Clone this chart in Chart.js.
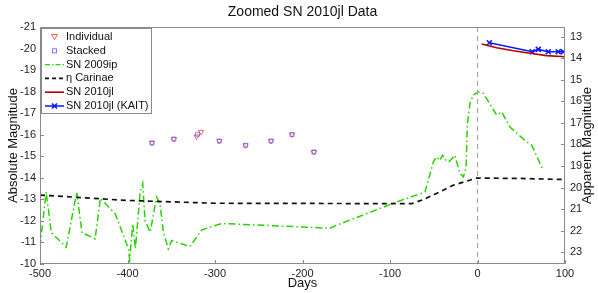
<!DOCTYPE html>
<html>
<head>
<meta charset="utf-8">
<script src="https://cdn.jsdelivr.net/npm/chart.js@4.4.1/dist/chart.umd.min.js"></script>
<style>
  html,body{margin:0;padding:0;background:#fff}
  #wrap{width:598px;height:293px}
</style>
</head>
<body>
<div id="wrap"><canvas id="c" width="598" height="293"></canvas></div>
<script>
// ---- axes ----
const xTicks=[-500,-400,-300,-200,-100,0,100];
const absTicks=[-21,-20,-19,-18,-17,-16,-15,-14,-13,-12,-11,-10];
const appTicks=[13,14,15,16,17,18,19,20,21,22,23];
const APP_OFFSET=33.55; // apparent - absolute

// ---- SN 2010jl precursor points ----
const indivDays=[-372,-347,-321,-316,-295,-265,-236,-212,-187];
const indivMags=[-15.62,-15.80,-15.92,-16.13,-15.71,-15.51,-15.71,-16.01,-15.20];
const stackDays=[-372,-347,-320,-295,-265,-236,-212,-187];
const stackMags=[-15.62,-15.80,-16.02,-15.71,-15.51,-15.71,-16.01,-15.20];

// ---- SN 2009ip ----
const ipDays=[-500,-493,-487,-470,-458,-452,-437,-431,-414,-399,-397.5,-394,-391,-389.5,-385.7,-382.6,-380,-374,-366.7,-362.9,-359,-353.4,-349.5,-328.6,-315.2,-305.7,-292.4,-240.9,-168.6,-160.9,-92.4,-60,-50.5,-47,-43,-40,-37,-33,-29,-26,-20,-16,-13,-11.6,-8.6,-4.8,0.9,6.6,22,27.6,37,54,62,75];
const ipMags=[-10.8,-13.35,-11.45,-10.78,-13.34,-11.45,-11.17,-13.05,-12.33,-10.72,-10.2,-11.87,-10.71,-11.4,-13.27,-13.73,-12.02,-11.48,-13.11,-12.8,-11.48,-10.71,-11.09,-10.81,-11.58,-11.71,-11.88,-11.79,-11.66,-11.8,-12.88,-13.34,-14.73,-14.97,-14.8,-15.05,-14.85,-14.73,-14.9,-15.05,-14.2,-14.05,-14.5,-16.5,-17.45,-17.84,-17.99,-17.92,-16.91,-17.06,-16.36,-15.74,-15.51,-14.35];

// ---- eta Carinae ----
const etaDays=[-500,-400,-300,-75,-62,-47,-28,-1,50,100];
const etaMags=[-13.2,-12.95,-12.82,-12.8,-12.99,-13.27,-13.65,-13.99,-13.97,-13.92];

// ---- SN 2010jl ----
const jlDays=[4.8,21.9,41,60,79,100];
const jlMags=[-20.21,-20.04,-19.9,-19.78,-19.67,-19.62];
const kaitDays=[13.5,62.6,69.5,80.9,92.3,98];
const kaitMags=[-20.27,-19.85,-19.96,-19.85,-19.85,-19.85];

// ---- day zero marker ----
const zeroDays=[0,0];
const zeroMags=[-21,-10];

const GREEN='rgb(40,210,0)';
const FONT='"Liberation Sans", Arial, Helvetica, sans-serif';
const pts=(xs,ys)=>xs.map((x,i)=>({x:x,y:ys[i]}));

const legendItems=[
  {label:'Individual',kind:'tri'},
  {label:'Stacked',kind:'sq'},
  {label:'SN 2009ip',kind:'line',color:GREEN,dash:[5,2,1.5,2],w:1.4},
  {label:'\u03B7 Carinae',kind:'line',color:'#111',dash:[4,3],w:1.6},
  {label:'SN 2010jl',kind:'line',color:'#b40000',dash:[],w:1.6},
  {label:'SN 2010jl (KAIT)',kind:'kait'}
];

const decor={
  id:'decor',
  afterDatasetsDraw(chart){
    const ctx=chart.ctx, a=chart.chartArea;
    const sx=chart.scales.x, sy=chart.scales.y, sy2=chart.scales.y2;
    ctx.save();
    // frame
    ctx.strokeStyle='#8a8a8a'; ctx.lineWidth=1; ctx.setLineDash([]);
    ctx.strokeRect(a.left+0.5,a.top+0.5,a.right-a.left-1,a.bottom-a.top-1);
    // inward ticks
    ctx.beginPath();
    absTicks.forEach(v=>{const y=Math.round(sy.getPixelForValue(v))+0.5;ctx.moveTo(a.left,y);ctx.lineTo(a.left+4,y);});
    appTicks.forEach(v=>{const y=Math.round(sy2.getPixelForValue(v))+0.5;ctx.moveTo(a.right,y);ctx.lineTo(a.right-4,y);});
    xTicks.forEach(v=>{const x=Math.round(sx.getPixelForValue(v))+0.5;ctx.moveTo(x,a.bottom);ctx.lineTo(x,a.bottom-4);});
    ctx.stroke();
    // titles
    ctx.fillStyle='#111';
    ctx.textAlign='center'; ctx.textBaseline='middle';
    ctx.font='14px '+FONT;
    ctx.fillText('Zoomed SN 2010jl Data',(a.left+a.right)/2,12);
    ctx.font='13px '+FONT;
    ctx.fillText('Days',(a.left+a.right)/2,283);
    const cy=(a.top+a.bottom)/2;
    ctx.save();ctx.translate(13,cy);ctx.rotate(-Math.PI/2);ctx.fillText('Absolute Magnitude',0,0);ctx.restore();
    ctx.save();ctx.translate(587,cy);ctx.rotate(-Math.PI/2);ctx.fillText('Apparent Magnitude',0,0);ctx.restore();
    // legend
    const lx=a.left+1, ly=a.top+1, lw=110, lh=85;
    ctx.fillStyle='#fff'; ctx.fillRect(lx,ly,lw,lh);
    ctx.strokeStyle='#8a8a8a'; ctx.strokeRect(lx+0.5,ly+0.5,lw,lh);
    ctx.font='11px '+FONT; ctx.textAlign='left';
    legendItems.forEach((it,i)=>{
      const y=ly+9+i*13.8;
      ctx.setLineDash([]);
      if(it.kind==='tri'){
        ctx.strokeStyle='rgba(255,40,40,0.85)';ctx.lineWidth=0.9;
        ctx.beginPath();ctx.moveTo(51.5,y-2.5);ctx.lineTo(57.5,y-2.5);ctx.lineTo(54.5,y+2.5);ctx.closePath();ctx.stroke();
      }else if(it.kind==='sq'){
        ctx.strokeStyle='rgba(90,90,255,0.85)';ctx.lineWidth=0.9;
        ctx.strokeRect(52.5,y-2,4,4);
      }else if(it.kind==='line'){
        ctx.strokeStyle=it.color;ctx.lineWidth=it.w;ctx.setLineDash(it.dash);
        ctx.beginPath();ctx.moveTo(45,y);ctx.lineTo(64,y);ctx.stroke();
      }else{
        ctx.strokeStyle='#0a1aff';ctx.lineWidth=1.6;
        ctx.beginPath();ctx.moveTo(45,y);ctx.lineTo(64,y);
        ctx.moveTo(52,y-2.5);ctx.lineTo(57,y+2.5);ctx.moveTo(57,y-2.5);ctx.lineTo(52,y+2.5);ctx.stroke();
      }
      ctx.setLineDash([]);
      ctx.fillStyle='#111';
      ctx.fillText(it.label,66,y);
    });
    ctx.restore();
  }
};

const tickFont={family:FONT,size:11};
new Chart(document.getElementById('c'),{
  type:'line',
  data:{datasets:[
    {data:pts(zeroDays,zeroMags),borderColor:'#a8a8a8',borderWidth:1.2,borderDash:[5,4],pointRadius:0},
    {data:pts(etaDays,etaMags),borderColor:'#111',borderWidth:1.7,borderDash:[5,4],pointRadius:0},
    {data:pts(ipDays,ipMags),borderColor:GREEN,borderWidth:1.5,borderDash:[7,3,1.5,3],pointRadius:0},
    {data:pts(jlDays,jlMags),borderColor:'#b40000',borderWidth:1.6,pointRadius:0},
    {data:pts(kaitDays,kaitMags),borderColor:'#0a1aff',borderWidth:1.6,pointStyle:'crossRot',pointRadius:3.5,pointBorderWidth:1.6,pointBorderColor:'#0a1aff'},
    {data:pts(stackDays,stackMags),showLine:false,pointStyle:'rect',pointRadius:2.8,pointBorderWidth:0.9,pointBorderColor:'rgba(90,90,255,0.8)',pointBackgroundColor:'rgba(0,0,0,0)'},
    {data:pts(indivDays,indivMags),showLine:false,pointStyle:'triangle',pointRotation:180,pointRadius:3,pointBorderWidth:0.9,pointBorderColor:'rgba(255,40,40,0.8)',pointBackgroundColor:'rgba(0,0,0,0)'}
  ]},
  options:{
    responsive:false,
    animation:false,
    elements:{line:{tension:0,fill:false}},
    layout:{padding:{top:27,left:0,right:0,bottom:0}},
    plugins:{legend:{display:false},tooltip:{enabled:false},title:{display:false}},
    scales:{
      x:{type:'linear',min:-500,max:100,
        afterBuildTicks:s=>{s.ticks=xTicks.map(v=>({value:v}));},
        afterFit:s=>{s.height=29;},
        grid:{display:false,drawTicks:false},border:{display:false},
        ticks:{padding:3,font:tickFont,color:'#222',maxRotation:0,autoSkip:false}},
      y:{type:'linear',position:'left',min:-21,max:-10,reverse:true,
        afterBuildTicks:s=>{s.ticks=absTicks.map(v=>({value:v}));},
        afterFit:s=>{s.width=40;},
        grid:{display:false,drawTicks:false},border:{display:false},
        ticks:{padding:4,font:tickFont,color:'#222',autoSkip:false}},
      y2:{type:'linear',position:'right',min:-21+APP_OFFSET,max:-10+APP_OFFSET,reverse:true,
        afterBuildTicks:s=>{s.ticks=appTicks.map(v=>({value:v}));},
        afterFit:s=>{s.width=33;},
        grid:{display:false,drawTicks:false},border:{display:false},
        ticks:{padding:5,font:tickFont,color:'#222',autoSkip:false}}
    }
  },
  plugins:[decor]
});
</script>
</body>
</html>
